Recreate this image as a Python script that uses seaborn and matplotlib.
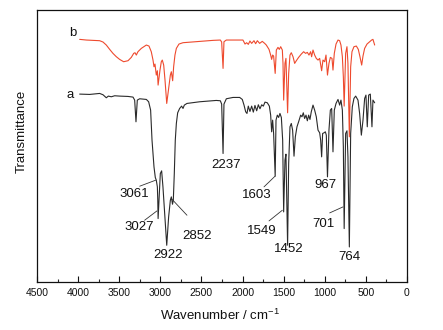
import numpy as np
import pandas as pd
import matplotlib
matplotlib.use("Agg")
import matplotlib.pyplot as plt
from matplotlib.ticker import MultipleLocator, NullLocator
import seaborn as sns

# FT-IR spectra: wavenumber (cm-1) and transmittance (arbitrary units)
wn_a = [3981, 3859, 3738, 3697, 3657, 3632, 3596, 3555, 3495, 3393, 3332, 3312, 3296, 3280,
        3251, 3170, 3142, 3118, 3101, 3077, 3061, 3049, 3036, 3031, 3027, 3000, 2984, 2968,
        2947, 2922, 2899, 2878, 2866, 2852, 2842, 2830, 2818, 2805, 2789, 2765, 2741, 2724,
        2708, 2676, 2522, 2319, 2270, 2254, 2237, 2226, 2197, 2116, 2035, 2003, 1982, 1962,
        1946, 1930, 1910, 1889, 1869, 1849, 1828, 1808, 1788, 1767, 1747, 1727, 1699, 1674,
        1658, 1646, 1634, 1622, 1603, 1593, 1577, 1561, 1545, 1528, 1512, 1500, 1484, 1472,
        1452, 1439, 1423, 1407, 1391, 1374, 1358, 1338, 1318, 1293, 1277, 1261, 1245, 1228,
        1212, 1196, 1180, 1164, 1143, 1123, 1103, 1082, 1062, 1050, 1038, 1026, 1009, 993,
        981, 967, 949, 932, 916, 900, 884, 863, 839, 819, 803, 786, 774, 764, 746, 730, 718,
        701, 685, 665, 645, 624, 596, 576, 555, 535, 515, 499, 483, 466, 446, 426, 414, 393]
tr_a = [56.3, 56.2, 56.5, 56.1, 55.2, 55.7, 55.5, 55.8, 55.7, 55.6, 55.4, 54.5, 48.0, 54.5,
        54.9, 54.7, 54.0, 51.5, 42.5, 34.5, 31.3, 30.5, 28.5, 24.5, 19.0, 32.5, 33.3, 28.5,
        20.5, 11.0, 19.5, 24.5, 25.5, 23.3, 24.5, 32.5, 42.5, 47.5, 50.7, 52.0, 52.7, 52.0,
        53.0, 53.5, 54.0, 54.4, 54.3, 53.3, 38.5, 53.3, 54.9, 55.3, 55.3, 54.7, 53.0, 51.0,
        50.5, 52.7, 51.1, 52.7, 50.9, 52.9, 51.3, 53.1, 51.9, 53.1, 52.7, 53.9, 53.7, 52.7,
        50.0, 45.0, 48.5, 44.5, 31.7, 48.5, 50.0, 49.3, 50.5, 49.3, 42.5, 21.0, 36.5, 38.3,
        11.0, 35.5, 46.5, 47.5, 45.5, 37.7, 43.5, 46.5, 48.0, 50.0, 49.5, 50.7, 49.0, 50.0,
        48.3, 50.0, 48.7, 51.0, 53.0, 51.5, 49.5, 45.5, 44.7, 42.5, 37.5, 44.5, 44.7, 45.0,
        44.0, 31.5, 45.5, 51.5, 52.0, 39.0, 51.5, 53.5, 54.7, 53.0, 54.5, 51.5, 40.5, 16.0,
        44.5, 45.3, 37.5, 10.5, 44.5, 52.5, 55.0, 55.7, 54.5, 50.5, 44.0, 48.5, 55.0, 56.0,
        46.5, 56.0, 56.3, 46.5, 54.5, 53.7]

wn_b = [3981, 3900, 3819, 3738, 3697, 3657, 3616, 3576, 3535, 3495, 3446, 3393, 3353, 3324,
        3308, 3292, 3272, 3231, 3170, 3138, 3110, 3089, 3077, 3065, 3049, 3036, 3027, 3004,
        2988, 2976, 2959, 2943, 2922, 2899, 2878, 2866, 2850, 2838, 2822, 2805, 2773, 2724,
        2522, 2359, 2270, 2254, 2237, 2226, 2197, 1995, 1970, 1950, 1930, 1910, 1889, 1861,
        1841, 1820, 1792, 1760, 1731, 1711, 1678, 1658, 1646, 1634, 1622, 1603, 1589, 1569,
        1553, 1536, 1516, 1508, 1500, 1484, 1472, 1452, 1439, 1423, 1407, 1386, 1366, 1346,
        1318, 1285, 1257, 1233, 1212, 1192, 1172, 1160, 1143, 1123, 1103, 1082, 1062, 1038,
        1022, 1001, 985, 967, 949, 932, 912, 900, 884, 863, 839, 819, 803, 786, 774, 764,
        746, 730, 718, 701, 685, 669, 645, 616, 592, 572, 551, 535, 515, 486, 454, 430, 414,
        393]
tr_b = [72.7, 72.5, 72.4, 72.3, 71.9, 71.0, 69.7, 68.5, 67.5, 66.7, 66.0, 66.3, 67.3, 68.5,
        68.7, 68.0, 69.0, 70.0, 71.0, 70.7, 69.0, 66.5, 64.5, 65.3, 62.0, 63.3, 59.0, 63.5,
        66.0, 66.5, 65.0, 60.5, 53.5, 58.0, 62.0, 63.0, 60.3, 64.5, 68.0, 70.0, 71.3, 71.7,
        72.1, 72.4, 72.5, 71.9, 64.0, 72.0, 72.5, 72.5, 71.3, 71.7, 71.2, 72.2, 71.5, 72.3,
        71.4, 72.3, 71.5, 72.1, 71.5, 71.0, 69.7, 68.0, 66.7, 68.0, 67.7, 62.5, 69.5, 70.3,
        69.7, 70.5, 69.5, 65.5, 54.5, 65.5, 67.0, 50.7, 62.5, 68.0, 68.7, 67.5, 65.5, 66.3,
        67.3, 68.3, 69.0, 68.5, 68.8, 68.0, 69.0, 67.5, 69.5, 68.0, 67.0, 66.5, 67.0, 63.3,
        66.5, 66.0, 68.0, 62.0, 65.5, 67.3, 67.0, 63.5, 68.5, 71.3, 72.5, 72.3, 71.0, 67.5,
        61.5, 52.7, 68.5, 70.5, 65.5, 43.5, 64.5, 69.0, 70.5, 70.7, 69.7, 67.5, 65.0, 67.7,
        70.0, 71.3, 72.0, 72.5, 72.7, 71.0]

# Peak labels: text, text position (wavenumber, transmittance)
peak_text = ["3061", "3027", "2922", "2852", "2237", "1603", "1549", "1452", "967", "701", "764"]
peak_tx = [3312, 3251, 2907, 2554, 2197, 1832, 1772, 1435, 993, 1013, 697]
peak_ty = [26.5, 16.5, 8.0, 13.7, 35.0, 26.0, 15.2, 10.0, 29.2, 17.5, 7.5]

# Leader lines: (x0, y0, x1, y1)
leaders = [(3251, 28.7, 3057, 30.5),
           (3191, 18.5, 3041, 21.3),
           (2866, 25.0, 2676, 20.0),
           (1739, 28.5, 1605, 31.7),
           (1678, 18.3, 1516, 21.5),
           (940, 20.7, 778, 22.5)]

# Curve tags
tag_text = ["b", "a"]
tag_x = [4070, 4103]
tag_y = [74.5, 56.0]

df = pd.concat([
    pd.DataFrame({"Wavenumber": wn_a, "T": tr_a, "sample": "a"}),
    pd.DataFrame({"Wavenumber": wn_b, "T": tr_b, "sample": "b"}),
], ignore_index=True)

sns.set_style("ticks")
plt.rcParams["font.family"] = ["Liberation Sans", "DejaVu Sans"]
plt.rcParams["mathtext.fontset"] = "custom"
plt.rcParams["mathtext.rm"] = "Liberation Sans"

fig = plt.figure(figsize=(4.43, 3.30), dpi=100)
ax = fig.add_axes([0.0835, 0.1455, 0.8352, 0.8242])

sns.lineplot(data=df, x="Wavenumber", y="T", hue="sample", estimator=None,
             palette={"a": "#2a2a2a", "b": "#ee4a2e"}, linewidth=0.8,
             legend=False, ax=ax, sort=False)

ax.set_xlim(4500, 0)
ax.set_ylim(0, 81.5)
ax.xaxis.set_major_locator(MultipleLocator(500))
ax.xaxis.set_minor_locator(MultipleLocator(250))
ax.yaxis.set_major_locator(NullLocator())
ax.tick_params(axis="x", which="major", direction="in", length=4, width=0.8,
               labelsize=7.5, pad=4, colors="#111111")
ax.tick_params(axis="x", which="minor", direction="in", length=2, width=0.8)
for s in ax.spines.values():
    s.set_visible(True)
    s.set_linewidth(0.9)
    s.set_color("#111111")

ax.set_xlabel("Wavenumber / cm$^{-1}$", fontsize=9.5, color="#111111")
ax.set_ylabel("Transmittance", fontsize=9.5, color="#111111")
ax.xaxis.set_label_coords(0.4946, -0.095)
ax.yaxis.set_label_coords(-0.026, 0.553)

for t, x, y in zip(peak_text, peak_tx, peak_ty):
    ax.text(x, y, t, fontsize=9.5, ha="center", va="center", color="#111111")
for x0, y0, x1, y1 in leaders:
    ax.plot([x0, x1], [y0, y1], color="#333333", linewidth=0.6)
for t, x, y in zip(tag_text, tag_x, tag_y):
    ax.text(x, y, t, fontsize=9.5, ha="center", va="center", color="#111111")

fig.savefig("out.png", dpi=100)
